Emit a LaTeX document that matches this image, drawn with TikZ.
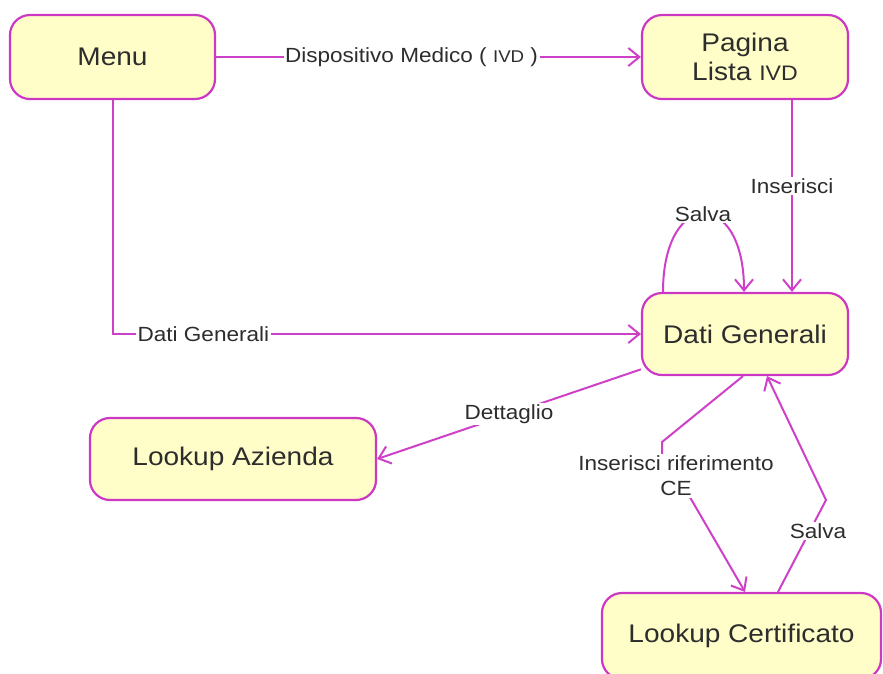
\documentclass[tikz,border=0pt]{standalone}
\usepackage{fontspec}
\setmainfont{Liberation Sans}[FakeStretch=1.1]
\usetikzlibrary{arrows.meta}
\definecolor{bord}{RGB}{204,56,196}
\definecolor{lin}{RGB}{206,64,200}
\definecolor{boxfill}{RGB}{255,254,200}
\definecolor{txt}{RGB}{45,45,45}
\newcommand{\nodefont}{\fontsize{25.5}{29}\selectfont}
\newcommand{\labfont}{\fontsize{20.5}{25}\selectfont}
\begin{document}
\begin{tikzpicture}[x=1pt,y=-1pt,
  state/.style={draw=bord, line width=2.2pt, fill=boxfill, rounded corners=20pt,
    inner sep=0pt, align=center, text=txt, font=\nodefont},
  conn/.style={draw=lin, line width=2pt},
  arr/.style={-{Straight Barb[length=11pt,width=18pt]}},
  lab/.style={fill=white, inner sep=1.5pt, align=center, text=txt, font=\labfont}]
\useasboundingbox (0,0) rectangle (883,673);
\begin{scope}
\clip (0,0) rectangle (883,673);
\node[state, minimum width=205pt, minimum height=84pt] (menu) at (112.5,57) {Menu};
\node[state, minimum width=206pt, minimum height=84pt] (pagina) at (745,57)
  {Pagina\\Lista {\fontsize{21}{22}\selectfont IVD}};
\node[state, minimum width=206pt, minimum height=82pt] (dati) at (745,334) {Dati Generali};
\node[state, minimum width=286pt, minimum height=82pt] (azienda) at (233,459) {Lookup Azienda};
\node[state, minimum width=279pt, minimum height=86pt] (cert) at (741.5,636) {Lookup Certificato};

% Menu -> Pagina
\draw[conn,arr] (menu.east) -- node[lab, pos=0.46]
  {Dispositivo Medico ( {\fontsize{17}{18}\selectfont IVD} )} (pagina.west);
% Menu -> Dati
\draw[conn,arr] (menu.south) |- node[lab, pos=0.586] {Dati Generali} (dati.west);
% Pagina -> Dati
\draw[conn,arr] ([xshift=47pt]pagina.south) -- node[lab, pos=0.45] {Inserisci}
  ([xshift=47pt]dati.north);
% Self loop
\draw[conn,arr] ([xshift=-82pt]dati.north) .. controls +(0,-104) and +(0,-104) ..
  ([xshift=-1pt]dati.north);
\node[lab] (salva1) at (703,214) {Salva};
% Dati -> Azienda
\draw[conn,arr] (dati) -- node[lab, pos=0.5] {Dettaglio} (azienda.east);
% Dati -> Certificato
\coordinate (k1) at (662,442);
\coordinate (k2) at (662,456);
\coordinate (k3) at (691,499);
\draw[conn,arr] ([xshift=-2pt]dati.south) -- (k1) -- (k2) -- (k3) -- ([xshift=3.5pt]cert.north);
\node[lab] (lce) at (676,476) {Inserisci riferimento\\CE};
% Certificato -> Dati
\coordinate (k4) at (826,500);
\draw[conn,arr] ([xshift=36.5pt]cert.north) -- (k4) -- ([xshift=22pt]dati.south);
\node[lab] (salva2) at (818,531) {Salva};
\end{scope}
\end{tikzpicture}
\end{document}
